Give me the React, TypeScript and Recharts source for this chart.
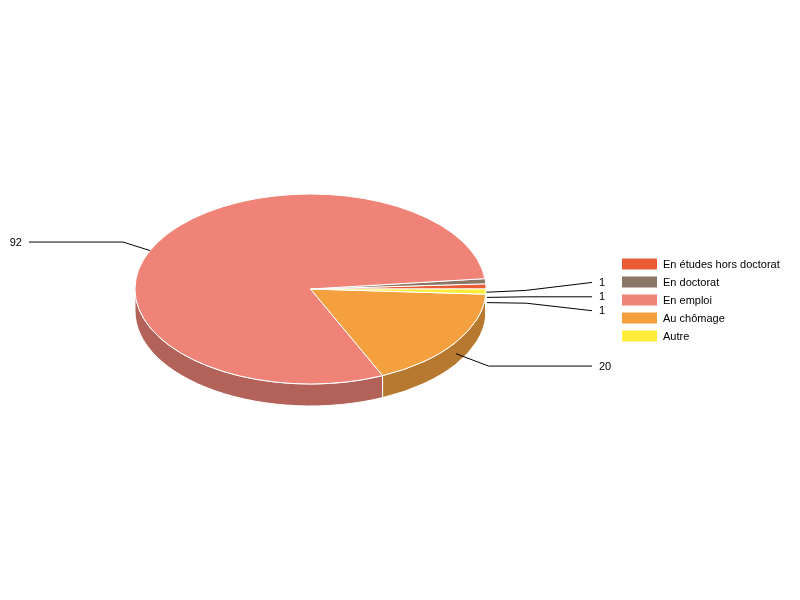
import { PieChart, Pie, Legend } from 'recharts';

const categories = ['En études hors doctorat', 'En doctorat', 'En emploi', 'Au chômage', 'Autre'];
const counts = [1, 1, 92, 20, 1];
const topColors = ['#EA5C36', '#8A7766', '#EF8377', '#F4A03F', '#FFEC3B'];
const sideColors = ['#AF4528', '#68594D', '#B36259', '#B7782F', '#BFB12C'];

// vertical push of the three crowded labels, same order as the categories
const labelShift = [0, -8, 0, 0, 7.5];

const CX = 310.5;
const CY = 289;
const RX = 175.5;
const RY = 95;
const DEPTH = 22;
const FONT = '"Liberation Sans", Arial, sans-serif';

const topData = categories.map((name, i) => ({ name, value: counts[i], fill: topColors[i] }));
const sideData = categories.map((name, i) => ({ name, value: counts[i], fill: sideColors[i] }));

const pt = (deg: number, dy = 0) => {
  const a = (deg * Math.PI) / 180;
  return `${CX + RX * Math.cos(a)} ${CY - RY * Math.sin(a) + dy}`;
};

function TopSlice({ startAngle, endAngle, fill }: any) {
  const large = endAngle - startAngle > 180 ? 1 : 0;
  const d = `M${CX} ${CY} L${pt(startAngle)} A${RX} ${RY} 0 ${large} 0 ${pt(endAngle)} Z`;
  return <path d={d} fill={fill} stroke="#fff" strokeWidth={1} />;
}

function SideSlice({ startAngle, endAngle, fill }: any) {
  const from = Math.max(startAngle, 180);
  if (endAngle <= from) return <g />;
  const d =
    `M${pt(from)} A${RX} ${RY} 0 0 0 ${pt(endAngle)} ` +
    `L${pt(endAngle, DEPTH)} A${RX} ${RY} 0 0 1 ${pt(from, DEPTH)} Z`;
  return <path d={d} fill={fill} stroke="#fff" strokeWidth={1} />;
}

// labels sit above the pie faces, so a leader that starts under the top face
// has to begin where it leaves the ellipse
function leaveTopFace(x0: number, y0: number, x1: number, y1: number) {
  const px = (x0 - CX) / RX;
  const py = (y0 - CY) / RY;
  if (px * px + py * py >= 1) return [x0, y0];
  const qx = (x1 - x0) / RX;
  const qy = (y1 - y0) / RY;
  const A = qx * qx + qy * qy;
  const B = 2 * (px * qx + py * qy);
  const C = px * px + py * py - 1;
  const t = (-B + Math.sqrt(B * B - 4 * A * C)) / (2 * A);
  return [x0 + t * (x1 - x0), y0 + t * (y1 - y0)];
}

function SliceLabel({ midAngle, value, index }: any) {
  const a = (midAngle * Math.PI) / 180;
  const c = Math.cos(a);
  const s = Math.sin(a);
  const x1 = CX + RX * 1.23 * c;
  const y1 = CY + DEPTH / 2 - RY * 1.23 * s;
  const [x0, y0] = leaveTopFace(CX + (RX + 1) * c, CY + DEPTH / 2 - RY * s, x1, y1);
  const right = c > 0;
  const x2 = right ? 592 : 29;
  const y2 = y1 + labelShift[index];
  return (
    <g>
      <polyline points={`${x0},${y0} ${x1},${y1} ${x2},${y2}`} fill="none" stroke="#000" strokeWidth={1} />
      <text x={right ? 599 : 22} y={y2 - 0.5} textAnchor={right ? 'start' : 'end'} dominantBaseline="central"
        fontFamily={FONT} fontSize={11} fill="#000">
        {value}
      </text>
    </g>
  );
}

function LegendBox({ payload }: any) {
  const items = (payload || []).filter((p: any) => p.type !== 'none');
  return (
    <svg width={170} height={95} style={{ display: 'block' }}>
      {items.map((item: any, i: number) => (
        <g key={item.value} transform={`translate(0 ${i * 18})`}>
          <rect x={0} y={3.5} width={35} height={11} fill={item.color} />
          <text x={41} y={9} dominantBaseline="central" fontFamily={FONT} fontSize={11} fill="#000">
            {item.value}
          </text>
        </g>
      ))}
    </svg>
  );
}

export default function App() {
  return (
    <div style={{ position: 'absolute', left: 0, top: 0, width: 800, height: 600, willChange: 'transform' }}>
      <PieChart width={800} height={600} margin={{ top: 0, right: 0, bottom: 0, left: 0 }}>
        <Pie data={sideData} dataKey="value" nameKey="name" cx={CX} cy={CY} outerRadius={RX}
          startAngle={0} endAngle={360} isAnimationActive={false} legendType="none"
          shape={SideSlice} label={SliceLabel} labelLine={false} />
        <Pie data={topData} dataKey="value" nameKey="name" cx={CX} cy={CY} outerRadius={RX}
          startAngle={0} endAngle={360} isAnimationActive={false} legendType="rect"
          shape={TopSlice} label={false} labelLine={false} />
        <Legend layout="vertical" align="right" verticalAlign="top" content={LegendBox} itemSorter={null}
          wrapperStyle={{ position: 'absolute', left: 622, top: 255, width: 170, height: 95 }} />
      </PieChart>
    </div>
  );
}
